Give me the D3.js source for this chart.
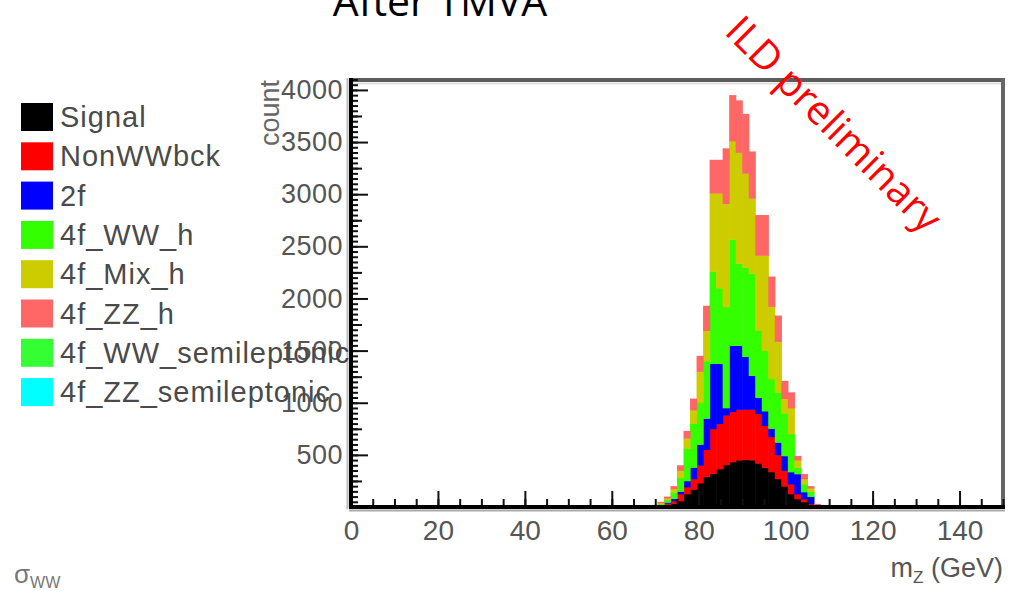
<!DOCTYPE html>
<html><head><meta charset="utf-8">
<script src="https://cdn.jsdelivr.net/npm/d3@7"></script>
<style>body{margin:0;background:#fff;overflow:hidden}svg{display:block}</style>
</head><body>
<svg id="c" width="1011" height="591"></svg>
<script>
// ---- data (bin lower edges in GeV, bin width 1.5 GeV) ----
const binLow = [69.0, 70.5, 72.0, 73.5, 75.0, 76.5, 78.0, 79.5, 81.0, 82.5, 84.0, 85.5, 87.0,
                88.5, 90.0, 91.5, 93.0, 94.5, 96.0, 97.5, 99.0, 100.5, 102.0, 103.5, 105.0, 106.5];
const binWidth = 1.5;
const signal   = [4, 10, 20, 35, 58, 125, 170, 230, 290, 320, 365, 404, 432, 450, 455, 450, 420, 380, 336, 270, 200, 125, 77, 48, 20, 5];
const nonWWbck = [2, 5, 15, 23, 67, 67, 100, 170, 260, 430, 435, 476, 481, 486, 481, 486, 474, 400, 337, 230, 150, 95, 48, 29, 10, 3];
const twoF     = [2, 5, 10, 22, 25, 58, 110, 200, 300, 625, 575, 70, 635, 612, 506, 324, 156, 140, 80, 120, 140, 116, 192, 67, 70, 4];
const ww_h     = [4, 10, 25, 60, 130, 310, 420, 400, 550, 885, 725, 970, 1019, 788, 858, 980, 642, 580, 477, 480, 410, 364, 63, 76, 50, 4];
const mix_h    = [4, 10, 15, 35, 70, 100, 130, 300, 292, 750, 910, 990, 943, 1064, 900, 720, 721, 913, 693, 487, 140, 250, 70, 50, 30, 6];
const zz_h     = [4, 10, 15, 25, 50, 70, 110, 150, 238, 320, 320, 530, 440, 500, 570, 450, 387, 387, 287, 249, 170, 150, 40, 47, 20, 8];
const ww_semileptonic = [0,0,0,0,0,0,0,0,0,0,0,0,0,0,0,0,0,0,0,0,0,0,0,0,0,0];
const zz_semileptonic = [0,0,0,0,0,0,0,0,0,0,0,0,0,0,0,0,0,0,0,0,0,0,0,0,0,0];

const seriesNames  = ["Signal", "NonWWbck", "2f", "4f_WW_h", "4f_Mix_h", "4f_ZZ_h", "4f_WW_semileptonic", "4f_ZZ_semileptonic"];
const seriesValues = [signal, nonWWbck, twoF, ww_h, mix_h, zz_h, ww_semileptonic, zz_semileptonic];
const seriesColors = ["#000000", "#ff0000", "#0000ff", "#33ff00", "#cccc00", "#ff6666", "#33ff33", "#00ffff"];

const xTickValues = [0, 20, 40, 60, 80, 100, 120, 140];
const yTickValues = [500, 1000, 1500, 2000, 2500, 3000, 3500, 4000];

// ---- build ----
const svg = d3.select("#c");
const x = d3.scaleLinear().domain([0, 150]).range([351, 1003]);
const y = d3.scaleLinear().domain([0, 4100]).range([507, 79.5]);

const table = binLow.map((b, i) => {
  const row = {x: b};
  seriesNames.forEach((n, j) => row[n] = seriesValues[j][i]);
  return row;
});
const stacked = d3.stack().keys(seriesNames)(table);

const gH = svg.append("g");
stacked.forEach((layer, j) => {
  gH.selectAll(null).data(layer.filter(d => d[1] > d[0])).enter().append("rect")
    .attr("x", d => x(d.data.x))
    .attr("width", d => x(d.data.x + binWidth) - x(d.data.x) + 0.6)
    .attr("y", d => y(d[1]))
    .attr("height", d => y(d[0]) - y(d[1]) + 0.4)
    .attr("fill", seriesColors[j]);
});

// frame
const fr = svg.append("g");
fr.append("line").attr("x1", 349).attr("x2", 1005).attr("y1", 80).attr("y2", 80).attr("stroke", "#5c5c5c").attr("stroke-width", 4);
fr.append("line").attr("x1", 353).attr("x2", 1001).attr("y1", 83.5).attr("y2", 83.5).attr("stroke", "#dedede").attr("stroke-width", 2);
fr.append("line").attr("x1", 1003).attr("x2", 1003).attr("y1", 78).attr("y2", 509).attr("stroke", "#666").attr("stroke-width", 4);

const tickFont = "'Liberation Sans', Arial, sans-serif";

// y axis
const yMinor = svg.append("g").attr("transform", "translate(352,0)")
  .call(d3.axisLeft(y).tickValues(d3.range(0, 4101, 50)).tickSize(-6).tickFormat(""));
const yMid = svg.append("g").attr("transform", "translate(352,0)")
  .call(d3.axisLeft(y).tickValues(d3.range(250, 4101, 500)).tickSize(-10).tickFormat(""));
const yMajor = svg.append("g").attr("transform", "translate(352,0)")
  .call(d3.axisLeft(y).tickValues(yTickValues).tickSize(-16).tickPadding(9).tickFormat(d3.format("d")));
[yMinor, yMid, yMajor].forEach(g => {
  g.select(".domain").remove();
  g.selectAll(".tick line").attr("stroke", "#111").attr("stroke-width", 2);
});
yMajor.selectAll("text").attr("font-family", tickFont).attr("font-size", 27).attr("fill", "#555")
  .attr("letter-spacing", 0.5);

// x axis
const xMinor = svg.append("g").attr("transform", "translate(0,506)")
  .call(d3.axisBottom(x).tickValues(d3.range(0, 151, 5)).tickSize(-7).tickFormat(""));
const xMajor = svg.append("g").attr("transform", "translate(0,506)")
  .call(d3.axisBottom(x).tickValues(xTickValues).tickSize(-15).tickPadding(14));
[xMinor, xMajor].forEach(g => {
  g.select(".domain").remove();
  g.selectAll(".tick line").attr("stroke", "#111").attr("stroke-width", 2);
});
xMajor.selectAll("text").attr("font-family", tickFont).attr("font-size", 28).attr("fill", "#555");

// axis lines
svg.append("line").attr("x1", 351).attr("x2", 351).attr("y1", 78).attr("y2", 509).attr("stroke", "#000").attr("stroke-width", 4);
svg.append("line").attr("x1", 347.5).attr("x2", 347.5).attr("y1", 78).attr("y2", 509).attr("stroke", "#bbb").attr("stroke-width", 2);
svg.append("line").attr("x1", 349).attr("x2", 1005).attr("y1", 507).attr("y2", 507).attr("stroke", "#000").attr("stroke-width", 4);
svg.append("line").attr("x1", 349).attr("x2", 1005).attr("y1", 510.5).attr("y2", 510.5).attr("stroke", "#aaa").attr("stroke-width", 2);

// y title
svg.append("text").attr("transform", "translate(279,80) rotate(-90)")
  .attr("text-anchor", "end").attr("font-family", tickFont).attr("font-size", 27).attr("fill", "#666").text("count");

// x title
const xt = svg.append("text").attr("x", 1003).attr("y", 577).attr("text-anchor", "end")
  .attr("font-family", tickFont).attr("font-size", 27).attr("fill", "#555");
xt.append("tspan").text("m");
xt.append("tspan").attr("font-size", 17).attr("dy", 6).text("Z");
xt.append("tspan").attr("dy", -6).text(" (GeV)");

// legend
const lg = svg.append("g");
seriesNames.forEach((n, i) => {
  const cy = 117 + i * 39.3;
  lg.append("rect").attr("x", 21).attr("y", cy - 14).attr("width", 32).attr("height", 28).attr("fill", seriesColors[i]);
  lg.append("text").attr("x", 60).attr("y", cy + 10).attr("font-family", tickFont).attr("font-size", 29)
    .attr("letter-spacing", 1).attr("fill", "#4a4a4a").text(n);
});

// title
svg.append("text").attr("x", 440).attr("y", 16).attr("text-anchor", "middle")
  .attr("font-family", "'Open Sans', sans-serif").attr("font-size", 41).attr("fill", "#000").text("After TMVA");

// watermark
svg.append("text").attr("transform", "translate(835,123) rotate(45)")
  .attr("text-anchor", "middle").attr("dominant-baseline", "central")
  .attr("font-family", "'Open Sans', sans-serif").attr("font-size", 40).attr("fill", "#ff0000").text("ILD preliminary");

// bottom-left label
const sg = svg.append("text").attr("x", 14).attr("y", 583).attr("font-family", tickFont).attr("font-size", 26).attr("fill", "#777");
sg.append("tspan").text("σ");
sg.append("tspan").attr("font-size", 16).attr("dy", 5).text("WW");
</script>
</body></html>
